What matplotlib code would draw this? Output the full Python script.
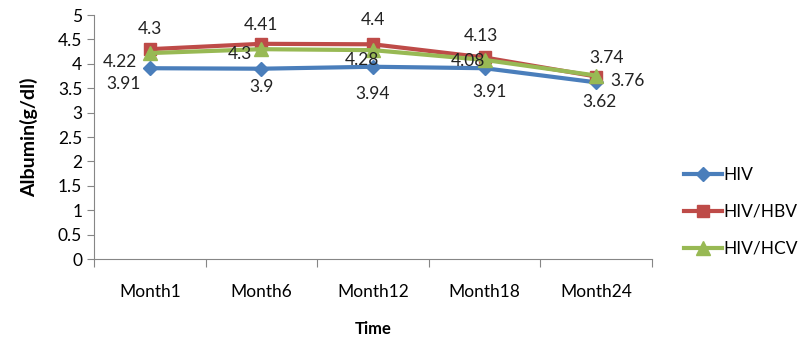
import numpy as np
import matplotlib
matplotlib.use('Agg')
import matplotlib.pyplot as plt

months = ['Month1', 'Month6', 'Month12', 'Month18', 'Month24']
hiv = [3.91, 3.9, 3.94, 3.91, 3.62]
hiv_hbv = [4.3, 4.41, 4.4, 4.13, 3.74]
hiv_hcv = [4.22, 4.3, 4.28, 4.08, 3.76]

# label offsets in pixels (styling only)
off_hiv = [(-26, -16), (0, -18), (0, -27), (5, -24), (3, -20)]
off_hbv = [(0, 20), (0, 19), (0, 24), (-4, 21), (10, 19)]
off_hcv = [(-30, -9), (-21, -5), (-11, -10), (-17, -1), (31, -5)]

plt.rcParams['font.family'] = ['Lato', 'DejaVu Sans']

fig = plt.figure(figsize=(8, 3.53), dpi=100)
ax = fig.add_axes([0.1175, 0.266, 0.6975, 0.6915])
x = np.arange(len(months))

series = [
    ('HIV', hiv, '#4A7EBB', 'D', 7, off_hiv),
    ('HIV/HBV', hiv_hbv, '#BE4B48', 's', 9, off_hbv),
    ('HIV/HCV', hiv_hcv, '#98B954', '^', 10, off_hcv),
]
for name, vals, col, mk, ms, offs in series:
    ax.plot(x, vals, color=col, lw=3, marker=mk, markersize=ms, label=name)
    for xi, v, o in zip(x, vals, offs):
        ax.annotate(f'{v:g}', (xi, v), xytext=o, textcoords='offset pixels',
                    ha='center', va='center', fontsize=12.5, color='#222222')

ax.set_xlim(-0.5, 4.5)
ax.set_ylim(0, 5)
ax.set_yticks(np.arange(0, 5.01, 0.5))
ax.set_yticklabels([f'{v:g}' for v in np.arange(0, 5.01, 0.5)])
ax.set_xticks(np.arange(-0.5, 4.6, 1))
ax.set_xticklabels([])
ax.set_xticks(x, minor=True)
ax.set_xticklabels(months, minor=True)
ax.tick_params(axis='x', which='major', length=6, color='#868686', direction='out')
ax.tick_params(axis='x', which='minor', length=0, pad=18, labelsize=12.5)
ax.tick_params(axis='y', length=5, color='#868686', labelsize=12.5)
for s in ['top', 'right']:
    ax.spines[s].set_visible(False)
for s in ['left', 'bottom']:
    ax.spines[s].set_color('#868686')

ax.set_xlabel('Time', fontweight='bold', fontsize=12, labelpad=15)
ax.set_ylabel('Albumin(g/dl)', fontweight='bold', fontsize=14, labelpad=14)

fig.legend(loc='center left', bbox_to_anchor=(0.835, 0.40), frameon=False,
           fontsize=12.5, labelspacing=1.2, handlelength=2.2, handletextpad=0.1)

fig.savefig('out.png', dpi=100)
